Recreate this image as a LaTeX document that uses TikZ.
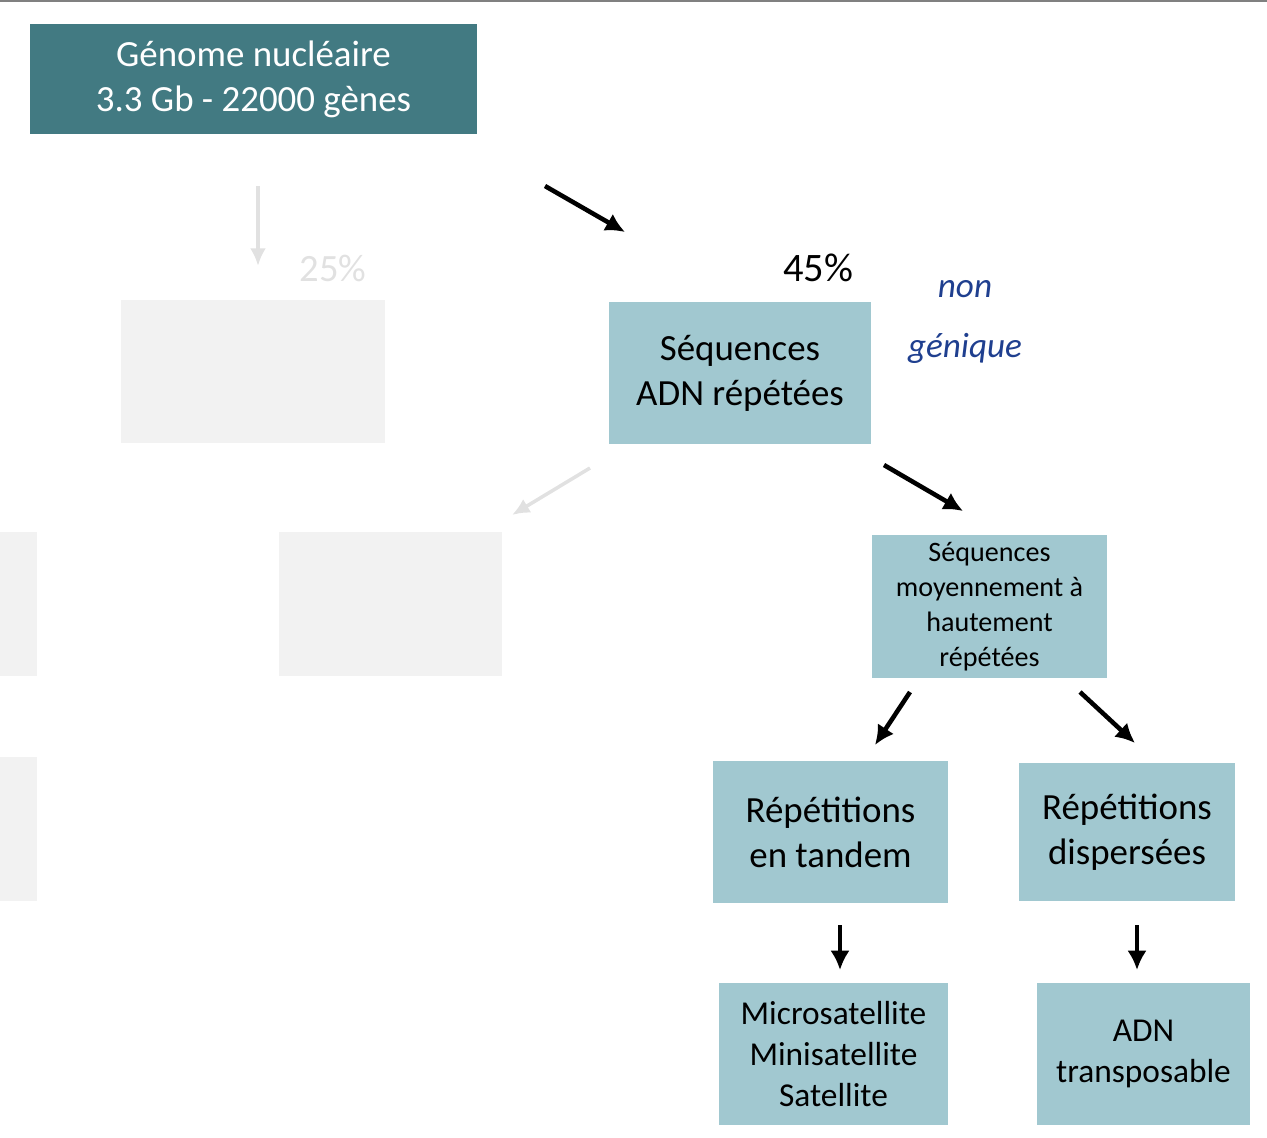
\documentclass[tikz,border=0pt]{standalone}
\usepackage{fontspec}
\setmainfont{Carlito}
\usetikzlibrary{arrows.meta}
\definecolor{darkteal}{HTML}{427A82}
\definecolor{lightteal}{HTML}{A1C8D0}
\definecolor{ghost}{HTML}{F2F2F2}
\definecolor{ink}{HTML}{1F3F8F}
\tikzset{
  box/.style={fill=lightteal, align=center, inner sep=0pt, font=\fontsize{21}{25.5}\selectfont},
  ghostbox/.style={fill=ghost},
  arr/.style={-{Latex[length=11pt,width=11pt]}, line width=2.6pt},
  ghostarr/.style={-{Latex[length=10pt,width=9pt]}, line width=2pt},
}
\newcommand{\bx}[6]{\node[#1, minimum width={(#4-#2)*0.02cm}, minimum height={(#5-#3)*0.02cm}] (#6) at ({(#2+#4)/2},{(#3+#5)/2})}
\begin{document}
\begin{tikzpicture}[x=0.02cm, y=-0.02cm]
    \useasboundingbox (0,0) rectangle (1267,1137);
    \draw[gray, line width=1pt] (0,1) -- (1267,1);

    % top level
    \bx{box, fill=darkteal, text=white}{30}{24}{477}{134}{genome} {Génome nucléaire\\3.3 Gb - 22000 gènes};

    % faded branch
    \draw[ghostarr, draw=ghost!85!gray] (258,186) -- (258,266);
    \node[text=ghost!85!gray, font=\fontsize{22}{25}\selectfont] (p25) at (333,268) {25\%};
    \fill[ghost] (121,300) rectangle (385,443);
    \draw[ghostarr, draw=ghost!85!gray] (590,468) -- (512,515);
    \fill[ghost] (0,532) rectangle (37,676);
    \fill[ghost] (279,532) rectangle (502,676);
    \fill[ghost] (0,757) rectangle (37,901);

    % repeated branch
    \draw[arr] (545,186) -- (625,232);
    \node[font=\fontsize{23}{25}\selectfont] (p45) at (818,268) {45\%};
    \bx{box}{609}{302}{871}{444}{rep} {Séquences\\ADN répétées};
    \node[text=ink, font=\fontsize{20}{34}\selectfont\itshape, align=center] (nongen) at (965,322) {non\\génique};

    \draw[arr] (884,465) -- (963,511);
    \bx{box, font=\fontsize{16}{20}\selectfont}{872}{535}{1107}{678}{moy} {Séquences\\moyennement à\\hautement\\répétées};

    \draw[arr] (910,692) -- (875,745);
    \draw[arr] (1080,692) -- (1135,743);
    \bx{box}{713}{761}{948}{903}{tandem} {Répétitions\\en tandem};
    \bx{box}{1019}{763}{1235}{901}{disp} {Répétitions\\dispersées};

    \draw[arr] (840,925) -- (840,970);
    \draw[arr] (1137,925) -- (1137,970);
    \bx{box, font=\fontsize{19}{23.5}\selectfont}{719}{983}{948}{1125}{sat} {Microsatellite\\Minisatellite\\Satellite};
    \bx{box, font=\fontsize{19}{23.5}\selectfont}{1037}{983}{1250}{1125}{transp} {ADN\\transposable};
\end{tikzpicture}
\end{document}
